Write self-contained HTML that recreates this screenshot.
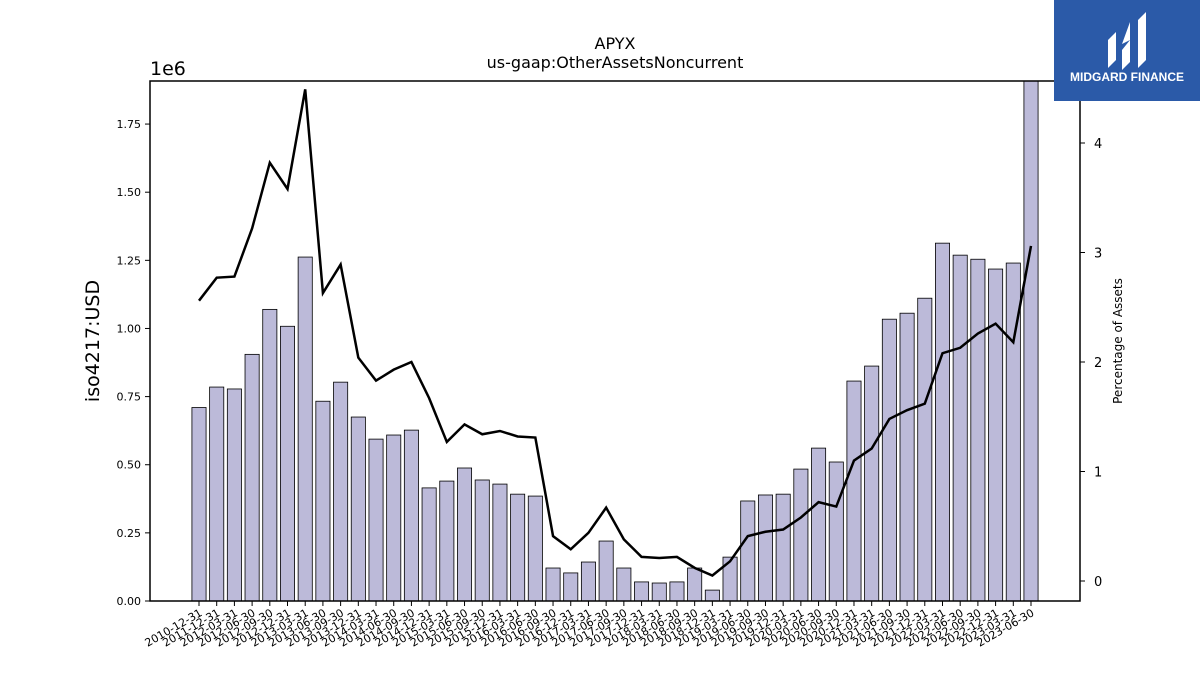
<!DOCTYPE html>
<html><head><meta charset="utf-8"><style>
body{margin:0;background:#fff;font-family:"Liberation Sans","DejaVu Sans",sans-serif}
</style></head><body>
<svg id="c" width="1200" height="675" xmlns="http://www.w3.org/2000/svg" style="font-family:'DejaVu Sans','Liberation Sans',sans-serif">
<text x="615" y="49" text-anchor="middle" font-size="16">APYX</text>
<text x="615" y="68" text-anchor="middle" font-size="16">us-gaap:OtherAssetsNoncurrent</text>
<text x="150" y="75" font-size="19">1e6</text>
<text transform="translate(99,341) rotate(-90)" text-anchor="middle" font-size="19">iso4217:USD</text>
<text transform="translate(1122,341) rotate(-90)" text-anchor="middle" font-size="12">Percentage of Assets</text>
<g id="bars"></g><g id="line"></g><g id="axes"></g>
<g>
<rect x="1054" y="0" width="146" height="101" fill="#2b5aa8"/>
<path d="M1108 68 L1108 40 L1116 32 L1116 60 Z M1122 44 L1130 22 L1130 40 Z M1122 50 L1130 40 L1130 62 L1122 70 Z M1138 20 L1146 12 L1146 60 L1138 68 Z" fill="#fff"/>
<text x="1127" y="81" text-anchor="middle" font-size="12" font-weight="bold" fill="#fff" font-family="Liberation Sans,sans-serif">MIDGARD FINANCE</text>
</g>
</svg>
<script>
const labels=["2010-12-31"];
(function(){for(let y=2011;y<=2023;y++){for(const q of ["03-31","06-30","09-30","12-31"]){if(y===2011&&q!=="12-31")continue;if(y===2023&&(q==="09-30"||q==="12-31"))continue;labels.push(y+"-"+q);}}})();
const barValues=[0.71,0.785,0.778,0.905,1.07,1.008,1.262,0.733,0.803,0.675,0.594,0.609,0.627,0.415,0.44,0.488,0.444,0.429,0.392,0.385,0.121,0.103,0.143,0.22,0.121,0.07,0.066,0.07,0.121,0.04,0.161,0.367,0.389,0.392,0.484,0.561,0.51,0.807,0.862,1.034,1.056,1.111,1.313,1.269,1.254,1.218,1.24,1.95];
const pctValues=[2.56,2.77,2.78,3.22,3.82,3.58,4.49,2.63,2.89,2.04,1.83,1.93,2.0,1.67,1.27,1.43,1.34,1.37,1.32,1.31,0.41,0.29,0.44,0.67,0.38,0.22,0.21,0.22,0.12,0.05,0.18,0.41,0.45,0.47,0.58,0.72,0.68,1.10,1.21,1.48,1.56,1.62,2.08,2.13,2.26,2.35,2.18,3.06];
const yTicks=[0,0.25,0.5,0.75,1.0,1.25,1.5,1.75];
const y2Ticks=[0,1,2,3,4];
const L=150,R=1080,T=81,B=601;
const n=barValues.length;
const step=832/(n-1);
const x=i=>199+i*step;
const y=v=>B-v*(B-T)/1.908;
const y2=v=>581-v*109.5;
const NS="http://www.w3.org/2000/svg";
function mk(t,a,p){const e=document.createElementNS(NS,t);for(const k in a)e.setAttribute(k,a[k]);p.appendChild(e);return e;}
const bars=document.getElementById('bars'),line=document.getElementById('line'),axes=document.getElementById('axes');
const cp=mk('clipPath',{id:'clip'},document.getElementById('c'));mk('rect',{x:L,y:T,width:R-L,height:B-T},cp);
bars.setAttribute('clip-path','url(#clip)');
barValues.forEach((v,i)=>{const w=step*0.8;const r=mk('rect',{x:x(i)-w/2,y:y(v),width:w,height:B-y(v),fill:'#bcbad9',stroke:'#000','stroke-width':0.8},bars);

});
const pl=mk('polyline',{points:pctValues.map((v,i)=>x(i)+','+y2(v)).join(' '),fill:'none',stroke:'#000','stroke-width':2.5},line);


const fr=mk('rect',{x:L,y:T,width:R-L,height:B-T,fill:'none',stroke:'#000','stroke-width':1.5},axes);


yTicks.forEach(v=>{mk('line',{x1:L-5,x2:L,y1:y(v),y2:y(v),stroke:'#000'},axes);const t=mk('text',{x:L-9,y:y(v)+4,'text-anchor':'end','font-size':11},axes);t.textContent=v.toFixed(2);

});
y2Ticks.forEach(v=>{mk('line',{x1:R,x2:R+5,y1:y2(v),y2:y2(v),stroke:'#000'},axes);const t=mk('text',{x:R+14,y:y2(v)+5,'font-size':13},axes);t.textContent=v;

});
labels.forEach((l,i)=>{mk('line',{x1:x(i),x2:x(i),y1:B,y2:B+5,stroke:'#000'},axes);const t=mk('text',{transform:`translate(${x(i)+4},${B+14}) rotate(-30)`,'text-anchor':'end','font-size':11},axes);t.textContent=l;

});
</script>
</body></html>
